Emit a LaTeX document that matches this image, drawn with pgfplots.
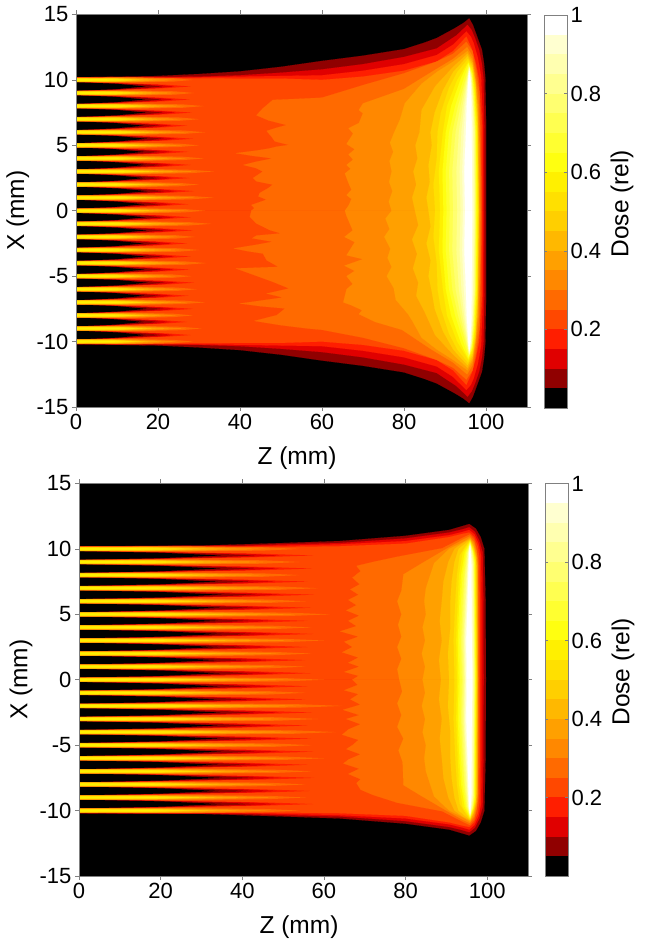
\documentclass[border=0pt]{standalone}
\usepackage{pgfplots}
\usepackage{pgfplotstable}
\usepackage{fontspec}
\setmainfont{Liberation Sans}
\pgfplotsset{compat=1.18}
\definecolor{c0}{HTML}{000000}\definecolor{c1}{HTML}{900000}\definecolor{c2}{HTML}{E00000}\definecolor{c3}{HTML}{FF1E00}
\definecolor{c4}{HTML}{FF4800}\definecolor{c5}{HTML}{FF6A00}\definecolor{c6}{HTML}{FF8800}\definecolor{c7}{HTML}{FFA000}
\definecolor{c8}{HTML}{FFB800}\definecolor{c9}{HTML}{FFCF00}\definecolor{c10}{HTML}{FFE000}\definecolor{c11}{HTML}{FFF000}
\definecolor{c12}{HTML}{FFFF10}\definecolor{c13}{HTML}{FFFF30}\definecolor{c14}{HTML}{FFFF50}\definecolor{c15}{HTML}{FFFF70}
\definecolor{c16}{HTML}{FFFF90}\definecolor{c17}{HTML}{FFFFB0}\definecolor{c18}{HTML}{FFFFD0}\definecolor{c19}{HTML}{FFFFFF}
\colorlet{frm}{black!50}
\newcommand\tickf{\fontsize{22}{25}\selectfont}
\newcommand\labf{\fontsize{24.5}{28}\selectfont}
\newcommand\lev[3]{%
\addplot[fill=c#1,draw=c#1,line width=.1pt] table[x=a,y=b,row sep=\\]{a b\\#2}--cycle;
\addplot[fill=c#1,draw=c#1,line width=.1pt] table[x=a,y expr=-\thisrow{b},row sep=\\]{a b\\#3}--cycle;}
\newcommand\levs[2]{\lev{#1}{#2}{#2}}
% gap wedges between the beams, half width against depth
\pgfplotstableread[row sep=\\]{a b\\0 0.34\\10 0.25\\22 0.13\\28 0\\22 -0.13\\10 -0.25\\0 -0.34\\}\wedgeC
\pgfplotstableread[row sep=\\]{a b\\0 0.34\\10 0.24\\20 0.13\\24 0\\20 -0.13\\10 -0.24\\0 -0.34\\}\wedgeB
\pgfplotstableread[row sep=\\]{a b\\0 0.33\\10 0.23\\17 0.12\\21 0\\17 -0.12\\10 -0.23\\0 -0.33\\}\wedgeA
\pgfplotstableread[row sep=\\]{a b\\0 0.33\\10 0.20\\17 0\\10 -0.20\\0 -0.33\\}\wedgeO
% beam cores, half width against depth
\pgfplotstableread[row sep=\\]{a b\\0 0.17\\15 0.2\\25 0.13\\30 0\\25 -0.13\\15 -0.2\\0 -0.17\\}\coreE
\pgfplotstableread[row sep=\\]{a b\\0 0.16\\15 0.17\\22 0.08\\26 0\\22 -0.08\\15 -0.17\\0 -0.16\\}\coreF
\pgfplotstableread[row sep=\\]{a b\\0 0.15\\12 0.15\\18 0.08\\22 0\\18 -0.08\\12 -0.15\\0 -0.15\\}\coreG
\pgfplotstableread[row sep=\\]{a b\\0 0.14\\10 0.14\\15 0.07\\19 0\\15 -0.07\\10 -0.14\\0 -0.14\\}\coreH
\pgfplotstableread[row sep=\\]{a b\\0 0.13\\10 0.12\\17 0\\10 -0.12\\0 -0.13\\}\coreI
\pgfplotstableread[row sep=\\]{a b\\0 0.11\\10 0.09\\15 0\\10 -0.09\\0 -0.11\\}\coreJ
\pgfplotstableread[row sep=\\]{a b\\0 0.08\\8 0.05\\12 0\\8 -0.05\\0 -0.08\\}\coreK
\newcommand\gp[2]{%
\addplot[fill=c3,draw=none] table[x expr=\thisrow{a}*#2,y expr=\thisrow{b}+(#1)+0.5]{\wedgeC}--cycle;
\addplot[fill=c2,draw=none] table[x expr=\thisrow{a}*#2,y expr=\thisrow{b}+(#1)+0.5]{\wedgeB}--cycle;
\addplot[fill=c1,draw=none] table[x expr=\thisrow{a}*#2,y expr=\thisrow{b}+(#1)+0.5]{\wedgeA}--cycle;
\addplot[fill=black,draw=none] table[x expr=\thisrow{a}*#2,y expr=\thisrow{b}+(#1)+0.5]{\wedgeO}--cycle;}
\newcommand\bm[2]{%
\addplot[fill=c5,draw=none] table[x expr=\thisrow{a}*#2,y expr=\thisrow{b}+(#1)]{\coreE}--cycle;
\addplot[fill=c6,draw=none] table[x expr=\thisrow{a}*#2,y expr=\thisrow{b}+(#1)]{\coreF}--cycle;
\addplot[fill=c7,draw=none] table[x expr=\thisrow{a}*#2,y expr=\thisrow{b}+(#1)]{\coreG}--cycle;
\addplot[fill=c8,draw=none] table[x expr=\thisrow{a}*#2,y expr=\thisrow{b}+(#1)]{\coreH}--cycle;
\addplot[fill=c9,draw=none] table[x expr=\thisrow{a}*#2,y expr=\thisrow{b}+(#1)]{\coreI}--cycle;
\addplot[fill=c10,draw=none] table[x expr=\thisrow{a}*#2,y expr=\thisrow{b}+(#1)]{\coreJ}--cycle;
\addplot[fill=c11,draw=none] table[x expr=\thisrow{a}*#2,y expr=\thisrow{b}+(#1)]{\coreK}--cycle;}
\newcommand\bandrow[3]{\addplot[fill=c#1,draw=none] coordinates {(0,#2)(1,#2)(1,#3)(0,#3)}--cycle;}
\newcommand\bands{%
\bandrow{0}{0}{.05}\bandrow{1}{.05}{.1}\bandrow{2}{.1}{.15}\bandrow{3}{.15}{.2}\bandrow{4}{.2}{.25}
\bandrow{5}{.25}{.3}\bandrow{6}{.3}{.35}\bandrow{7}{.35}{.4}\bandrow{8}{.4}{.45}\bandrow{9}{.45}{.5}
\bandrow{10}{.5}{.55}\bandrow{11}{.55}{.6}\bandrow{12}{.6}{.65}\bandrow{13}{.65}{.7}\bandrow{14}{.7}{.75}
\bandrow{15}{.75}{.8}\bandrow{16}{.8}{.85}\bandrow{17}{.85}{.9}\bandrow{18}{.9}{.95}\bandrow{19}{.95}{1}}
\pgfplotsset{
 common/.style={scale only axis,anchor=south west,axis on top,
  /pgf/number format/assume math mode=true,
  tick label style={font=\tickf},label style={font=\labf},
  axis line style={frm,line width=.5pt},
  every tick/.style={frm,line width=.5pt}},
 main/.style={common,xmin=0,xmax=110,ymin=-15,ymax=15,
  xtick={0,20,...,100},ytick={-15,-10,...,15},
  tick align=outside,major tick length=4pt,
  xticklabel pos=bottom,yticklabel pos=left,
  xlabel={Z (mm)},ylabel={X (mm)},
  xlabel style={at={(axis description cs:0.49,-0.13)},anchor=center},
  ylabel style={at={(axis description cs:-0.129,0.5)},anchor=center},
  axis background/.style={fill=black}},
 cbar/.style={common,xmin=0,xmax=1,ymin=0,ymax=1,xtick=\empty,
  ytick={0.2,0.4,0.6,0.8,1},yticklabel pos=right,tick align=inside,major tick length=3pt,
  yticklabel style={/pgf/number format/fixed},
  ylabel={Dose (rel)},
  ylabel style={at={(axis description cs:3.39,0.52)},anchor=center}}
}
\begin{document}
\begin{tikzpicture}[x=1pt,y=1pt]
\path[use as bounding box] (0,0) rectangle (645,947);
\begin{axis}[main,at={(76pt,540pt)},width=451pt,height=392.5pt]
\levs{1}{0 0\\0 10.2\\20 10.3\\30 10.45\\40 10.65\\50 11\\60 11.45\\70 11.85\\80 12.35\\85 12.85\\88 13.2\\92.4 13.95\\94.5 14.35\\95.9 14.7\\96.8 14.2\\97.7 13.43\\99 12.3\\99.5 11.3\\99.8 10.3\\100 7\\100 0\\}
\levs{2}{0 0\\0 10.19\\20 10.22\\30 10.25\\40 10.35\\50 10.55\\60 10.8\\70 11.2\\80 11.75\\88 12.4\\92.8 13.4\\95.5 14.2\\96.5 13.8\\97.3 13.2\\98.3 12.3\\99 11.2\\99.4 10\\99.6 6\\99.6 0\\}
\levs{3}{0 0\\0 10.18\\30 10.2\\40 10.25\\50 10.3\\60 10.35\\70 10.7\\80 11.2\\88 11.9\\92 12.7\\95.2 13.7\\96.3 13.3\\97 12.8\\98 11.7\\98.8 10.3\\99.2 7\\99.3 0\\}
\levs{4}{0 0\\0 10.17\\30 10.12\\40 10.1\\50 10.1\\60 10\\70 10.25\\80 10.7\\88 11.4\\92 12.2\\95.2 13.3\\96.5 12.4\\97.5 11.3\\98.3 10\\98.9 7\\99 0\\}
\gp{-10}{1.0}\gp{-9}{0.97}\gp{-8}{1.02}\gp{-7}{0.98}\gp{-6}{1.03}\gp{-5}{0.99}\gp{-4}{1.0}\gp{-3}{0.97}\gp{-2}{1.02}\gp{-1}{1.0}\gp{0}{0.98}\gp{1}{1.03}\gp{2}{0.99}\gp{3}{1.0}\gp{4}{0.98}\gp{5}{1.02}\gp{6}{0.97}\gp{7}{1.01}\gp{8}{0.99}\gp{9}{1.0}
\bm{-10}{0.95}\bm{-9}{1.02}\bm{-8}{0.95}\bm{-7}{1.05}\bm{-6}{0.98}\bm{-5}{0.94}\bm{-4}{1.06}\bm{-3}{1.0}\bm{-2}{0.97}\bm{-1}{1.1}\bm{0}{1.05}\bm{1}{1.12}\bm{2}{1.0}\bm{3}{1.12}\bm{4}{1.04}\bm{5}{1.0}\bm{6}{1.05}\bm{7}{1.0}\bm{8}{1.04}\bm{9}{0.96}\bm{10}{0.95}
\lev{5}{42.8 0\\43.5 .2\\42.8 .44\\46.5 .85\\44.5 1.1\\44.8 1.35\\47 1.75\\48 2\\44 2.25\\43.2 2.5\\45.6 3\\44 3.25\\40.8 3.5\\44 3.75\\48 4\\43 4.2\\39 4.4\\44 4.6\\47 4.75\\49 4.9\\52 5.03\\48.5 5.3\\47.7 5.66\\46.5 6.1\\49 6.35\\51.4 6.55\\47 6.9\\44 7.3\\45.6 7.83\\47 8.2\\48 8.47\\54 8.55\\60 8.64\\70 9.6\\80 10.5\\88 11.4\\92 12\\95.2 12.9\\96.7 12.2\\97.6 10.8\\98.4 9\\98.7 5\\98.8 0\\}{42.8 0\\42.4 .46\\44 .97\\47.3 1.48\\50 1.73\\44 1.9\\43 2.1\\48 2.37\\44 2.6\\38.5 2.88\\42 3.1\\45.6 3.27\\46.5 3.78\\49.4 4.29\\39 4.41\\43.5 4.92\\48 5.43\\52 5.94\\46.5 6.33\\50.5 6.63\\40 7.09\\45 7.3\\51 7.47\\49 7.98\\43.5 8.42\\50 8.75\\56.5 9\\60 9.1\\70 9.7\\80 10.5\\88 11.4\\92 12\\95.2 12.9\\96.7 12.2\\97.6 10.8\\98.4 9\\98.7 5\\98.8 0\\}
\lev{6}{65.6 0\\66.5 .4\\67.2 .9\\66 1.2\\67.2 1.6\\66.5 2.1\\65.6 2.85\\67 3.2\\66 3.5\\67.6 3.9\\66.5 4.3\\68 4.7\\66 5.1\\67.6 5.9\\66.5 6.3\\69 6.7\\70 7.45\\69 7.7\\70 8.2\\80 9.3\\86.7 10.6\\92 11.6\\95.4 12.5\\96.7 11.8\\97.5 10.4\\98.2 8.5\\98.5 5\\98.6 0\\}{65.6 0\\66 .4\\67.5 1.5\\65.5 2\\68 2.4\\66 3.4\\70 3.7\\65.5 4.2\\68 4.6\\66 5\\67.5 5.6\\66 6\\65.2 7\\67 7.2\\69.8 7.6\\69 7.9\\73 8.5\\79.5 9.1\\86.7 10.6\\92 11.6\\95.4 12.5\\96.7 11.8\\97.5 10.4\\98.2 8.5\\98.5 5\\98.6 0\\}
\lev{7}{77 0\\76.3 .7\\77.2 1.5\\76.4 2.2\\77 3\\76.5 3.8\\77.4 4.5\\76.6 5.2\\77.5 5.9\\79 6.95\\80.2 8.2\\84.3 9.7\\88 10.6\\92 11.4\\95.5 12.2\\96.7 11.5\\97.4 10\\98 8\\98.3 5\\98.4 0\\}{77 0\\75.5 .6\\76.5 1.4\\75.2 2\\76.7 2.9\\76 3.6\\77 4.3\\75.8 5\\77.5 5.9\\78 6.8\\81 7.9\\82 8.4\\84.3 9.7\\88 10.6\\92 11.4\\95.5 12.2\\96.7 11.5\\97.4 10\\98 8\\98.3 5\\98.4 0\\}
\lev{8}{82.7 0\\82 1\\83 2\\82.3 3\\83.3 4\\82.8 5\\83.8 6\\84.3 7.7\\87.6 9.5\\92 11\\95.5 12\\96.7 11.3\\97.5 9.8\\98 7.5\\98.3 0\\}{82.7 0\\83.5 1.1\\82 2.2\\83.2 3.3\\82.2 4.4\\83.5 5.5\\83 6.5\\85 7.7\\87.6 9.5\\92 11\\95.5 12\\96.7 11.3\\97.5 9.8\\98 7.5\\98.3 0\\}
\lev{9}{86 0\\85.5 1\\86.3 2.2\\86 3.5\\86.8 5\\86.5 6\\87.5 7.5\\89.5 9.2\\92 10.6\\95.5 11.8\\96.7 11.1\\97.4 9.6\\97.9 7\\98.2 0\\}{86 0\\86.5 1.2\\85.5 2.5\\86.5 3.8\\86 5\\86.8 6.2\\87.5 7.5\\89.5 9.2\\92 10.6\\95.5 11.8\\96.7 11.1\\97.4 9.6\\97.9 7\\98.2 0\\}
\levs{10}{87.6 0\\87.2 2\\88 4\\88.2 6\\89 7.5\\91 9.4\\93 10.6\\95.6 11.6\\96.7 10.9\\97.4 9.4\\97.9 6.5\\98.1 0\\}
\levs{11}{88.8 0\\88.5 3\\89.5 6\\90.5 8\\93 10\\95.7 11.4\\96.6 10.8\\97.3 9.2\\97.8 6\\98 0\\}
\levs{12}{89.6 0\\89.4 3\\90.2 6\\91.5 8\\94 10.2\\95.7 11.3\\96.6 10.6\\97.2 9\\97.7 6\\97.8 0\\}
\levs{13}{90.4 0\\90.2 3\\91 6\\92.5 8\\94.5 10\\95.8 11.2\\96.6 10.5\\97.1 9\\97.5 6\\97.6 0\\}
\levs{14}{91.2 0\\91 3\\91.8 6\\93.2 8\\95 10\\95.8 11.1\\96.5 10.4\\97 8.8\\97.4 6\\97.5 0\\}
\levs{15}{92 0\\91.8 3\\92.6 6\\93.8 8\\95.2 10\\95.9 11\\96.5 10.3\\96.9 8.7\\97.3 6\\97.4 0\\}
\levs{16}{93 0\\92.8 3\\93.4 6\\94.3 8\\95.4 10\\95.9 10.95\\96.4 10.2\\96.8 8.6\\97.2 6\\97.3 0\\}
\levs{17}{93.8 0\\93.6 3\\94 6\\94.7 8\\95.5 10\\95.9 10.9\\96.4 10.1\\96.7 8.5\\97 6\\97.1 0\\}
\levs{18}{94.4 0\\94.2 3\\94.6 6\\95 8\\95.6 10\\95.9 10.8\\96.3 10\\96.6 8.4\\96.8 6\\96.9 0\\}
\levs{19}{94.9 0\\94.7 3\\95.1 6\\95.3 8\\95.7 10\\95.9 10.7\\96.2 9.9\\96.4 8.3\\96.5 6\\96.6 0\\}
\end{axis}
\begin{axis}[cbar,at={(544pt,539pt)},width=23pt,height=393pt]
\bands
\end{axis}
\begin{axis}[main,at={(79pt,71pt)},width=449pt,height=392.5pt]
\levs{1}{0 0\\0 10.2\\30 10.25\\40 10.35\\50 10.45\\63.8 10.6\\80 11\\90.7 11.45\\94 11.75\\95.6 11.9\\97.2 11.55\\98.4 10.9\\99.3 10\\99.6 6\\99.7 0\\}
\levs{2}{0 0\\0 10.19\\40 10.25\\50 10.35\\63.8 10.45\\80 10.8\\90.7 11.25\\94 11.5\\95.6 11.65\\97 11.3\\98.1 10.6\\98.9 9.7\\99.05 6\\99.1 0\\}
\levs{3}{0 0\\0 10.18\\40 10.2\\50 10.25\\63.8 10.35\\80 10.6\\90.7 11.05\\94 11.3\\95.6 11.45\\96.9 11.1\\97.9 10.4\\98.5 9.5\\98.6 6\\98.6 0\\}
\levs{4}{0 0\\0 10.17\\40 10.15\\50 10.15\\63.8 10.2\\80 10.4\\90.7 10.9\\94 11.15\\95.6 11.25\\96.8 10.9\\97.7 10.2\\98.1 9.3\\98.2 6\\98.2 0\\}
\gp{-10}{2.05}\gp{-9}{2.02}\gp{-8}{2.06}\gp{-7}{2.0}\gp{-6}{2.05}\gp{-5}{2.03}\gp{-4}{2.0}\gp{-3}{2.04}\gp{-2}{1.98}\gp{-1}{2.0}\gp{0}{2.03}\gp{1}{1.98}\gp{2}{2.0}\gp{3}{2.05}\gp{4}{2.0}\gp{5}{2.03}\gp{6}{2.06}\gp{7}{2.0}\gp{8}{2.04}\gp{9}{2.05}
\bm{-10}{1.8}\bm{-9}{1.85}\bm{-8}{1.85}\bm{-7}{1.9}\bm{-6}{2.0}\bm{-5}{1.9}\bm{-4}{2.1}\bm{-3}{1.95}\bm{-2}{2.15}\bm{-1}{1.85}\bm{0}{2.0}\bm{1}{1.85}\bm{2}{1.9}\bm{3}{2.0}\bm{4}{1.9}\bm{5}{2.05}\bm{6}{1.85}\bm{7}{1.95}\bm{8}{1.8}\bm{9}{1.8}\bm{10}{1.8}
\lev{5}{67 0\\68.5 .3\\65 .6\\68.7 1\\66 1.3\\68.5 1.7\\64.5 2.1\\67 2.5\\65 2.9\\68.5 3.3\\64 3.7\\68 4.1\\66 4.5\\68.7 4.9\\65.5 5.3\\68 5.7\\66 6.1\\68.5 6.5\\66.5 6.9\\68.8 7.3\\67 7.8\\69 8.3\\68 8.7\\72 9\\78 9.4\\89 10.05\\94 10.85\\95.7 11.1\\96.8 10.7\\97.4 10\\97.8 9.1\\97.9 6\\97.9 0\\}{67 0\\68.3 .4\\65 .8\\68.5 1.1\\66.5 1.5\\69 1.9\\64.7 2.3\\68.7 2.7\\65.5 3\\69 3.4\\66 3.8\\64.5 4.2\\68.5 4.6\\67 5\\65.5 5.3\\69 5.7\\66 6.1\\64.8 6.4\\68.7 6.8\\66 7.2\\69 7.6\\68 7.9\\69 8.4\\72 8.8\\78 9.4\\89 10.05\\94 10.85\\95.7 11.1\\96.8 10.7\\97.4 10\\97.8 9.1\\97.9 6\\97.9 0\\}
\lev{6}{78.5 0\\78 .8\\79 1.6\\78 2.5\\79 3.3\\78.2 4.2\\79 5\\78 6\\79 6.8\\79.5 8.05\\84 8.9\\90 10\\94 10.7\\95.7 10.95\\96.8 10.5\\97.4 9.8\\97.7 8.9\\97.8 0\\}{78.5 0\\79.2 .9\\78 1.8\\79 2.7\\78 3.6\\79.5 4.5\\78.3 5.4\\79.3 6.3\\79.5 8.05\\84 8.9\\90 10\\94 10.7\\95.7 10.95\\96.8 10.5\\97.4 9.8\\97.7 8.9\\97.8 0\\}
\levs{7}{84.2 0\\84.8 1\\84 2\\84.8 3\\84.2 4\\85 5\\84.6 6\\85 7\\87 8.9\\90.7 10\\94 10.5\\95.8 10.85\\96.7 10.4\\97.3 9.6\\97.6 8.7\\97.7 0\\}
\levs{8}{88.7 0\\88.2 1.5\\88.9 3\\88.4 4.5\\88.9 6\\89.3 7.5\\90.5 9\\92 10\\94 10.45\\95.8 10.75\\96.7 10.2\\97.3 9.4\\97.5 8.5\\97.6 0\\}
\levs{9}{90.7 0\\90.4 2\\91 4\\91 6\\91.3 7.5\\92 9\\93 10\\95.8 10.7\\96.7 10.1\\97.2 9.3\\97.4 8.3\\97.5 0\\}
\levs{10}{92 0\\91.8 3\\92.2 6\\92.6 8\\93.3 9.5\\94.5 10.1\\95.8 10.65\\96.6 10\\97.2 9.2\\97.4 0\\}
\levs{11}{92.6 0\\92.4 3\\92.8 6\\93.1 8\\94 9.7\\95.8 10.6\\96.6 9.9\\97.1 9.1\\97.3 0\\}
\levs{12}{93 0\\92.8 3\\93.2 6\\93.6 8\\94.5 9.7\\95.8 10.55\\96.6 9.8\\97 9\\97.2 0\\}
\levs{13}{93.4 0\\93.2 3\\93.6 6\\94 8\\94.8 9.7\\95.8 10.5\\96.5 9.8\\96.9 9\\97.1 0\\}
\levs{14}{93.8 0\\93.6 3\\94 6\\94.4 8\\95 9.7\\95.8 10.45\\96.5 9.7\\96.8 8.9\\97 0\\}
\levs{15}{94.1 0\\93.9 3\\94.3 6\\94.6 8\\95.2 9.7\\95.8 10.4\\96.4 9.7\\96.7 8.9\\96.9 0\\}
\levs{16}{94.4 0\\94.2 3\\94.6 6\\94.9 8\\95.3 9.7\\95.8 10.35\\96.3 9.6\\96.6 8.8\\96.8 0\\}
\levs{17}{94.6 0\\94.4 3\\94.8 6\\95.1 8\\95.4 9.7\\95.8 10.3\\96.2 9.6\\96.5 8.8\\96.7 0\\}
\levs{18}{94.8 0\\94.6 3\\95 6\\95.2 8\\95.5 9.7\\95.8 10.25\\96.1 9.5\\96.3 8.7\\96.5 0\\}
\levs{19}{95 0\\94.9 3\\95.2 6\\95.4 8\\95.6 9.7\\95.8 10.2\\96 9.5\\96.1 8.7\\96.3 0\\}
\end{axis}
\begin{axis}[cbar,at={(545pt,71pt)},width=23pt,height=392.5pt]
\bands
\end{axis}
\end{tikzpicture}
\end{document}
